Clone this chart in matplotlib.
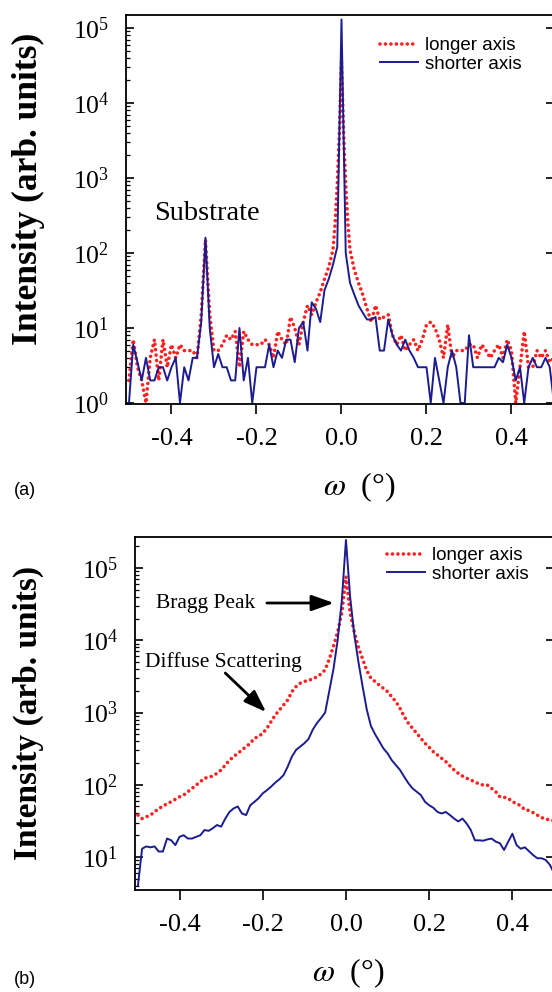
import matplotlib
matplotlib.use("Agg")
import matplotlib.pyplot as plt
from matplotlib.lines import Line2D
import numpy as np

# ---------------- data ----------------
tick_vals = [-0.4, -0.2, 0.0, 0.2, 0.4]
tick_labels = ["-0.4", "-0.2", "0.0", "0.2", "0.4"]

# regular omega grid (deg) used by both panels
omega = np.round(np.arange(-0.50, 0.5001, 0.01), 3)

# panel (a): longer axis (red dotted)
longer_a = [2, 7, 3, 2, 1, 4, 7, 2, 7, 3,
            6, 4, 6, 5, 5, 5, 4, 15, 150, 15,
            5, 5, 6, 8, 7, 9, 3, 9, 7, 6,
            6, 6, 7, 6, 4, 9, 7, 6, 14, 10,
            6, 12, 20, 15, 22, 30, 45, 65, 110, 800,
            35000,
            800, 110, 60, 40, 28, 18, 12, 20, 13, 14,
            15, 8, 6, 8, 5, 6, 7, 5, 7, 11,
            12, 10, 7, 4, 11, 4, 5, 5, 5, 6,
            6, 4, 6, 5, 4, 5, 6, 4, 7, 5,
            1, 3, 9, 3, 3, 5, 4, 5, 3.5, 4]
omega_a_fine = [-0.015, -0.005, 0.005, 0.015]
longer_a_fine = [250, 4000, 4000, 250]

# panel (a): shorter axis (blue solid)
shorter_a = [1, 6, 3.5, 2, 4, 2, 2, 3, 3, 2,
             3, 4, 1, 3, 2, 4, 4, 12, 160, 10,
             3, 4.5, 3, 3, 2, 2, 10, 2, 4, 1,
             3, 3, 3, 6, 3, 5, 4, 7, 7, 3.5,
             10, 12, 5, 22, 18, 12, 32, 45, 70, 120,
             130000,
             100, 40, 28, 20, 16, 13, 13, 14, 5, 5,
             13, 8, 6, 5, 7, 5, 4, 3, 3, 3,
             1, 4, 2, 1, 3, 5, 3, 1, 1, 8,
             3, 3, 3, 3, 3, 3, 4, 3.5, 6, 4,
             2, 3, 1, 3, 4, 3, 3, 4, 3, 1]

# panel (b): longer axis (red dotted)
longer_b = [38, 34, 36, 38, 42, 47, 50, 55, 58, 63,
            68, 72, 80, 89, 99, 110, 123, 127, 132, 144,
            160, 187, 219, 245, 272, 303, 337, 375, 440, 465,
            516, 605, 747, 920, 1080, 1270, 1490, 1940, 2280, 2540,
            2680, 2820, 2880, 3140, 3400, 3900, 5500, 8300, 13000, 24000,
            76000,
            24000, 13000, 8000, 5500, 3800, 3000, 2680, 2400, 2160, 1940,
            1650, 1410, 1140, 880, 710, 605, 516, 440, 375, 330,
            286, 258, 232, 209, 182, 160, 144, 132, 123, 116,
            110, 102, 99, 99, 89, 80, 68, 67, 65, 58,
            55, 51, 45, 44, 41, 38, 35, 34, 32, 32]

# panel (b): shorter axis (blue solid)
shorter_b = [4, 13, 14, 13.6, 14, 11.9, 11.9, 18, 17, 14.6,
             19, 20, 18, 18, 19, 20, 23.6, 23, 25, 27.7,
             26.3, 34, 42, 47, 50, 40, 38, 52, 58, 65,
             76, 84, 94, 107, 119, 136, 178, 245, 303, 337,
             375, 430, 575, 710, 835, 1000, 2000, 4000, 10000, 35000,
             245000,
             40000, 12000, 5000, 2300, 1100, 650, 500, 400, 318, 272,
             219, 187, 160, 129, 105, 89, 80, 72, 58, 52,
             48, 42, 40, 42, 38, 34, 31, 34, 29, 23.6,
             17, 17, 16.8, 17.5, 18, 16.3, 15.5, 12.5, 16.3, 21,
             14.6, 13, 13.6, 12, 10.6, 9.6, 9.6, 9.1, 7.8, 6]

# ---------------- style ----------------
plt.rcParams["font.family"] = ["Liberation Serif", "DejaVu Serif"]
plt.rcParams["mathtext.fontset"] = "stix"

RED = "#ff2020"
BLUE = "#1c1c90"
W, H = 552, 992

fig = plt.figure(figsize=(W / 100, H / 100), dpi=100)


def rect(l, t, r, b):
    return [l / W, 1 - b / H, (r - l) / W, (b - t) / H]


ax1 = fig.add_axes(rect(126, 15, 554, 404))
ax2 = fig.add_axes(rect(135, 537, 554, 890))

# merge the fine centre points into panel (a) red curve
xa = np.concatenate([omega, omega_a_fine])
ya = np.concatenate([longer_a, longer_a_fine])
order = np.argsort(xa)
xa, ya = xa[order], ya[order]


def red_line(ax, x, y):
    ln, = ax.plot(x, y, color=RED, lw=2.6)
    ln.set_dashes([0.01, 1.5])
    ln.set_dash_capstyle("round")
    return ln


red_line(ax1, xa, ya)
ax1.plot(omega, shorter_a, color=BLUE, lw=1.4)
red_line(ax2, omega, longer_b)
ax2.plot(omega, shorter_b, color=BLUE, lw=1.4)

ax1.set_ylim(0.97, 1.49e5)
ax2.set_ylim(3.49, 2.69e5)

for ax in (ax1, ax2):
    ax.set_yscale("log")
    ax.set_xlim(-0.507, 0.5)
    ax.set_xticks(tick_vals)
    ax.set_xticklabels(tick_labels)
    ax.yaxis.set_major_locator(matplotlib.ticker.LogLocator(base=10, numticks=20))
    ax.yaxis.set_minor_locator(matplotlib.ticker.LogLocator(base=10, subs=np.arange(2, 10), numticks=20))
    ax.yaxis.set_minor_formatter(matplotlib.ticker.NullFormatter())
    ax.tick_params(axis="x", direction="out", length=7, width=1.2, labelsize=19, pad=10, top=False)
    ax.tick_params(axis="y", which="major", direction="in", length=5.5, width=1.2,
                   left=True, right=True, labelsize=18.5, pad=12)
    ax.tick_params(axis="y", which="minor", direction="in", length=3, width=0.9,
                   left=True, right=False)
    for s in ax.spines.values():
        s.set_linewidth(1.3)

# legends
handles = [Line2D([], [], color=RED, lw=2.6, dashes=[0.01, 1.5], dash_capstyle="round"),
           Line2D([], [], color=BLUE, lw=1.4)]
labels = ["longer axis", "shorter axis"]
for ax, (lx, ty) in ((ax1, (380, 37)), (ax2, (387, 547))):
    ax.legend(handles, labels, loc="upper left", bbox_to_anchor=(lx / W, 1 - ty / H),
              bbox_transform=fig.transFigure, frameon=False,
              prop={"family": "Liberation Sans", "size": 13.5},
              handlelength=2.0, handletextpad=0.4, labelspacing=0.08,
              borderpad=0, borderaxespad=0)

# annotations
arrow = dict(arrowstyle="-|>,head_length=0.9,head_width=0.32",
             mutation_scale=15, color="black", lw=2.0, shrinkA=0, shrinkB=0)
ax1.text(-0.317, 340, "Substrate", fontsize=20.5, ha="center", va="center")
ax2.text(-0.338, 32800, "Bragg Peak", fontsize=15.5, ha="center", va="center")
ax2.annotate("", xy=(-0.029, 32800), xytext=(-0.19, 32800), arrowprops=arrow)
ax2.text(-0.294, 5000, "Diffuse Scattering", fontsize=15.5, ha="center", va="center")
ax2.annotate("", xy=(-0.192, 1016), xytext=(-0.29, 3520), arrowprops=arrow)

# axis labels
ylab = "Intensity (arb. units)"
fig.text(28 / W, 1 - 189 / H, ylab, rotation=90, ha="center", va="center",
         fontsize=25.5, fontweight="bold")
fig.text(28 / W, 1 - 713 / H, ylab, rotation=90, ha="center", va="center",
         fontsize=24, fontweight="bold")
xlab = r"$\omega$  (°)"
fig.text(359 / W, 1 - 487 / H, xlab, ha="center", va="center", fontsize=23)
fig.text(348 / W, 1 - 973 / H, xlab, ha="center", va="center", fontsize=23)

fig.text(25 / W, 1 - 491 / H, "(a)", ha="center", va="center", fontsize=13,
         family="Liberation Sans")
fig.text(25 / W, 1 - 980 / H, "(b)", ha="center", va="center", fontsize=13,
         family="Liberation Sans")

fig.savefig("out.png", dpi=100)
